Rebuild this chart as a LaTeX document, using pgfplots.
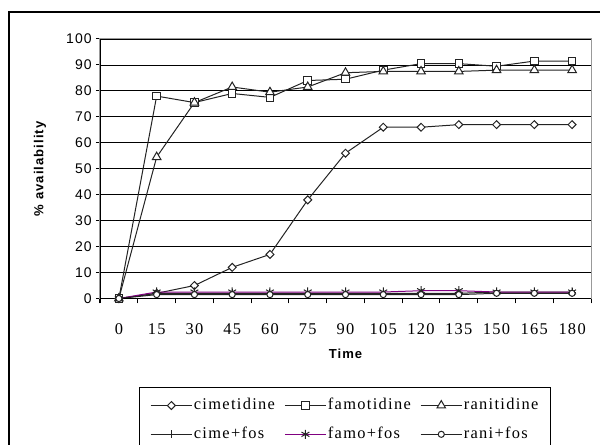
\documentclass[border=0pt]{standalone}
\usepackage{fontspec}
\setmainfont{Liberation Serif}[LetterSpace=8]
\setsansfont{Liberation Sans}[LetterSpace=8]
\usepackage{pgfplots}
\pgfplotsset{compat=1.18}
\definecolor{purp}{RGB}{128,0,128}
\definecolor{ln}{RGB}{35,35,35}
\pgfplotstableread{
t cim fam ran cimf famf ranf
0   0  0   0    0   0   0
15  2  78  54.5 2   2.5 1.5
30  5  75.5 75.5 2  2.5 1.5
45  12 79  81.5 2   2.5 1.5
60  17 77.5 79.5 2  2.5 1.5
75  38 84  81.5 2   2.5 1.5
90  56 84.5 87  2   2.5 1.5
105 66 88  87.5 2   2.5 1.5
120 66 90.5 87.5 2  3   1.5
135 67 90.5 87.5 2  3   1.5
150 67 89.5 88  2.5 2.5 2
165 67 91.5 88  2.5 2.5 2
180 67 91.5 88  2.5 2.5 2
}\data
\begin{document}
\begin{tikzpicture}
\useasboundingbox (0pt,0pt) rectangle (450pt,333.75pt);
\begin{scope}
\clip (0pt,0pt) rectangle (450pt,333.75pt);
\draw[line width=1.5pt] (6.75pt,-10pt) -- (6.75pt,324.75pt) -- (460pt,324.75pt);
\end{scope}
\begin{axis}[
  at={(75pt,109.875pt)}, anchor=south west,
  scale only axis, width=368.25pt, height=194.625pt,
  xmin=-7.5, xmax=187.5, ymin=0, ymax=100,
  xtick={0,15,...,180}, ytick={0,10,...,100},
  minor xtick={-7.5,7.5,...,187.5},
  /pgf/number format/assume math mode=true,
  tick align=outside, xtick pos=left, ytick pos=left,
  major x tick style={draw=none},
  minor x tick style={black, line width=0.75pt},
  minor tick length=3.75pt,
  major y tick style={black, line width=0.75pt},
  major tick length=3pt,
  ymajorgrids, grid style={black, line width=0.6pt},
  axis line style={gray!80, line width=0.75pt},
  xticklabel style={font=\fontsize{12.3}{14}\selectfont, anchor=base, yshift=-24pt},
  yticklabel style={font=\sffamily\fontsize{10.5}{12}\selectfont, anchor=east, inner sep=0pt, xshift=-3pt},
  xlabel={Time}, ylabel={\% availability},
  xlabel style={font=\sffamily\bfseries\fontsize{9.8}{11}\selectfont, at={(axis description cs:0.5,-0.2133)}, anchor=center},
  ylabel style={font=\sffamily\bfseries\fontsize{9.8}{11}\selectfont, at={(axis description cs:-0.122,0.5)}, anchor=center},
  every axis plot/.append style={line width=0.75pt, color=ln},
  legend columns=3,
  legend image code/.code={\draw[mark repeat=2,mark phase=2] plot coordinates {(0pt,0pt)(15.5pt,0pt)(31pt,0pt)};},
  legend style={at={(0.499,-0.341)}, anchor=north, draw=black, line width=0.6pt,
    font=\fontsize{12.3}{14}\selectfont, inner xsep=8pt, inner ysep=2.8pt,
    nodes={inner xsep=1pt, inner ysep=4.8pt, text height=9pt, text depth=3pt},
    /tikz/every even column/.append style={column sep=6pt},
    cells={anchor=west}},
]
\addplot[mark=square*, mark size=2.1pt, mark options={solid, fill=white, rotate=45}] table[x=t,y=cim]{\data};
\addlegendentry{cimetidine}
\addplot[mark=square*, mark size=2.8pt, mark options={solid, fill=white}] table[x=t,y=fam]{\data};
\addlegendentry{famotidine}
\addplot[mark=triangle*, mark size=3.7pt, mark options={solid, fill=white}] table[x=t,y=ran]{\data};
\addlegendentry{ranitidine}
\addplot[mark=+, mark size=3pt] table[x=t,y=cimf]{\data};
\addlegendentry{cime+fos}
\addplot[color=purp, mark=asterisk, mark size=3.4pt, mark options={draw=ln}] table[x=t,y=famf]{\data};
\addlegendentry{famo+fos}
\addplot[mark=*, mark size=2.3pt, mark options={solid, fill=white}] table[x=t,y=ranf]{\data};
\addlegendentry{rani+fos}
\draw[black, line width=0.75pt] (rel axis cs:0,1) -- (rel axis cs:0,0) -- (rel axis cs:1,0);
\end{axis}
\end{tikzpicture}
\end{document}
